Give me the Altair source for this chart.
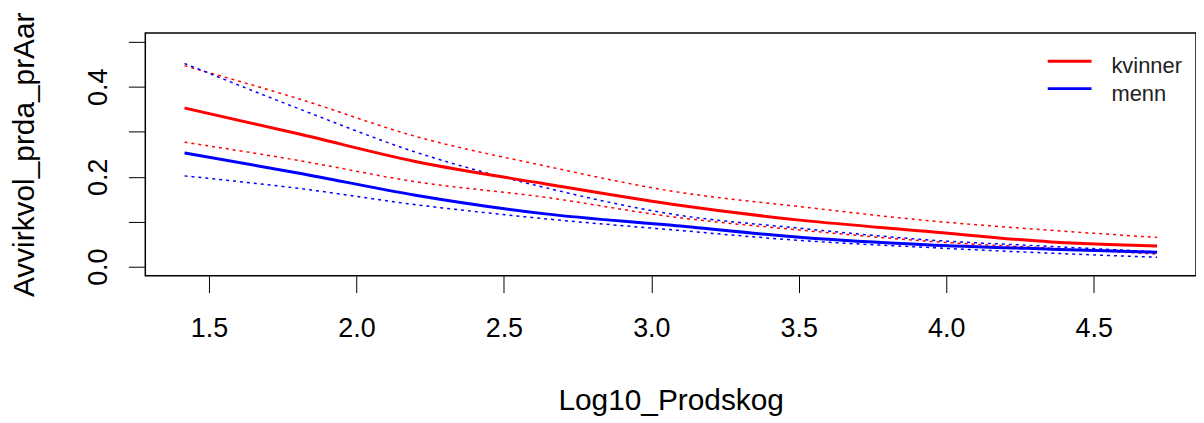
import altair as alt
import pandas as pd

# ---- data ----
x_vals = [1.417, 1.806, 2.20, 2.633, 3.07, 3.512, 3.93, 4.356, 4.715]
kvinner_fit = [0.353, 0.295, 0.234, 0.185, 0.139, 0.103, 0.079, 0.055, 0.046]
kvinner_upper = [0.447, 0.373, 0.290, 0.225, 0.168, 0.133, 0.103, 0.081, 0.065]
kvinner_lower = [0.277, 0.236, 0.189, 0.155, 0.111, 0.081, 0.057, 0.041, 0.028]
menn_fit = [0.253, 0.208, 0.159, 0.118, 0.092, 0.065, 0.049, 0.039, 0.032]
menn_upper = [0.452, 0.351, 0.255, 0.177, 0.117, 0.085, 0.060, 0.045, 0.033]
menn_lower = [0.202, 0.174, 0.138, 0.107, 0.082, 0.058, 0.043, 0.030, 0.021]

groups = ["kvinner", "menn"]
colors = ["#FF0000", "#0000FF"]
x_ticks = [1.5, 2.0, 2.5, 3.0, 3.5, 4.0, 4.5]
y_ticks = [0.0, 0.1, 0.2, 0.3, 0.4, 0.5]

rows = []
for g, fit, up, lo in [("kvinner", kvinner_fit, kvinner_upper, kvinner_lower),
                       ("menn", menn_fit, menn_upper, menn_lower)]:
    for kind, vals in [("fit", fit), ("upper", up), ("lower", lo)]:
        for xv, yv in zip(x_vals, vals):
            rows.append({"x": xv, "y": yv, "group": g, "kind": kind,
                         "series": g + "_" + kind})
df = pd.DataFrame(rows)

FONT = "Liberation Sans"
W, H = 1056, 244

xscale = alt.Scale(domain=[1.284, 4.847], nice=False, zero=False)
yscale = alt.Scale(domain=[-0.02, 0.52], nice=False, zero=False)
cscale = alt.Scale(domain=groups, range=colors)

xaxis = alt.Axis(values=x_ticks, format=".1f", grid=False, domain=False,
                 tickSize=17, tickColor="black", tickWidth=1,
                 labelFontSize=27, labelFont=FONT, labelColor="black",
                 labelPadding=23, labelFlush=False,
                 title="Log10_Prodskog", titleFont=FONT, titleFontSize=30,
                 titleFontWeight="normal", titleColor="black",
                 titleX=W / 2, titleY=135, titleAlign="center",
                 titleBaseline="alphabetic", titleAngle=0)
yaxis = alt.Axis(values=y_ticks, grid=False, domain=False,
                 labelExpr="round(datum.value*10) % 2 == 0 ? format(datum.value, '.1f') : ''",
                 tickSize=17, tickColor="black", tickWidth=1,
                 labelFontSize=27, labelFont=FONT, labelColor="black",
                 labelAngle=270, labelAlign="center", labelBaseline="alphabetic",
                 labelPadding=22, labelFlush=False, labelOverlap=False,
                 title="Avvirkvol_prda_prAar", titleFont=FONT, titleFontSize=30,
                 titleFontWeight="normal", titleColor="black",
                 titleAngle=270, titleX=-112, titleY=H / 2,
                 titleAlign="center", titleBaseline="alphabetic")

base = alt.Chart(df).encode(
    x=alt.X("x:Q", scale=xscale, axis=xaxis),
    y=alt.Y("y:Q", scale=yscale, axis=yaxis),
    color=alt.Color("group:N", scale=cscale, legend=None),
    detail="series:N",
)

fit_lines = base.transform_filter(alt.datum.kind == "fit").mark_line(
    strokeWidth=3, interpolate="monotone", clip=True)
ci_lines = base.transform_filter(alt.datum.kind != "fit").mark_line(
    strokeWidth=1.5, strokeDash=[3, 4], interpolate="monotone", clip=True)

leg_df = pd.DataFrame({"label": groups, "color": colors,
                       "ly": [28.4, 56.0], "ty": [40.0, 68.5]})

leg_lines = alt.Chart(leg_df).mark_rule(strokeWidth=3).encode(
    x=alt.value(907), x2=alt.value(951),
    y=alt.Y("ly:Q", scale=None),
    color=alt.Color("color:N", scale=None, legend=None))
leg_text = alt.Chart(leg_df).mark_text(font=FONT, fontSize=22, align="left",
                                       baseline="alphabetic", color="#222").encode(
    x=alt.value(971), y=alt.Y("ty:Q", scale=None), text="label:N")

chart = alt.layer(ci_lines, fit_lines, leg_lines, leg_text).properties(
    width=W, height=H,
    background="white",
    autosize=alt.AutoSizeParams(type="none"),
    padding={"left": 138, "top": 24, "right": 0, "bottom": 140},
).configure_view(stroke="black", strokeWidth=1.5)

chart.save("out.html", embed_options={"renderer": "svg", "actions": False})
